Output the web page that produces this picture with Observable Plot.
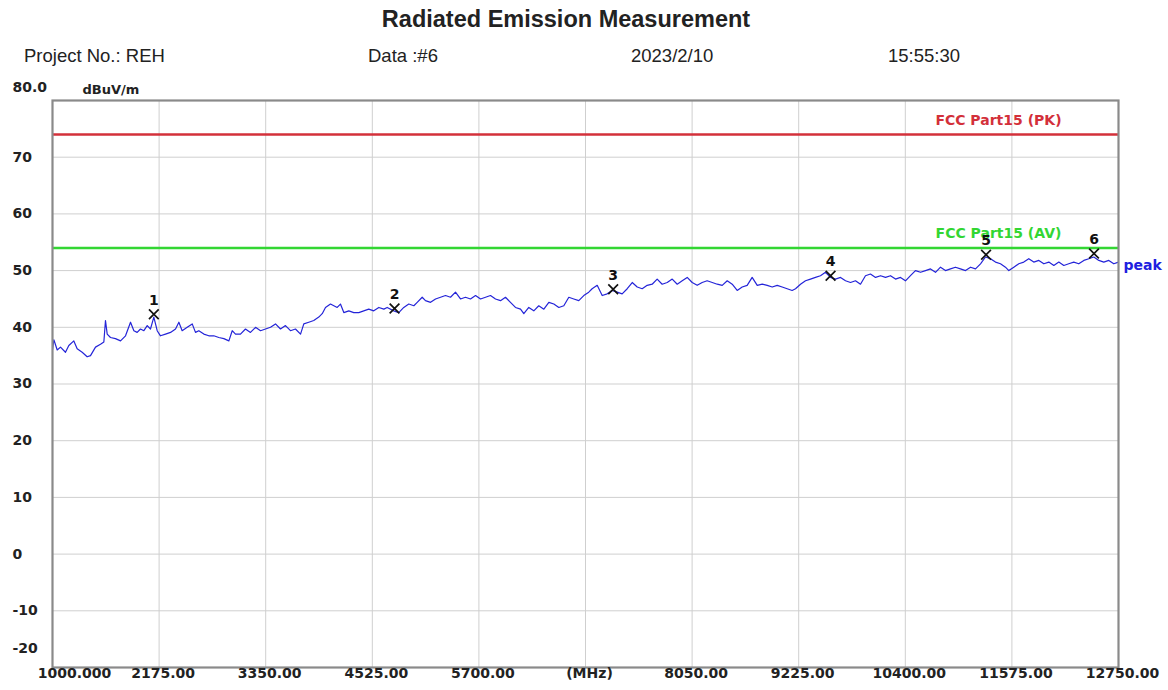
<!DOCTYPE html>
<html>
<head>
<meta charset="utf-8">
<script src="https://cdn.jsdelivr.net/npm/d3@7"></script>
<script src="https://cdn.jsdelivr.net/npm/@observablehq/plot@0.6"></script>
<style>
  body { margin: 0; background: #fff; }
  #hdr { position: relative; width: 1168px; height: 70px; font-family: "Liberation Sans", Arial, sans-serif; color: #222; }
  #hdr span { position: absolute; white-space: nowrap; line-height: 1; }
  #title { font-weight: bold; font-size: 23.5px; left: 0; width: 1132px; text-align: center; top: 8px; }
  .meta { font-size: 18.5px; top: 47px; }
</style>
</head>
<body>
<div id="hdr">
  <span id="title">Radiated Emission Measurement</span>
  <span class="meta" style="left:24px">Project No.: REH</span>
  <span class="meta" style="left:368px">Data :#6</span>
  <span class="meta" style="left:631px">2023/2/10</span>
  <span class="meta" style="left:888px">15:55:30</span>
</div>
<div id="chart"></div>
<script>
// ---- data ----
const freqMHz = [
  1000,1015,1052,1088,1143,1180,1235,1272,1327,1382,1419,1474,1529,1566,1584,1603,1639,1694,1750,1805,
  1860,1897,1933,1970,2007,2044,2080,2117,2154,2190,2246,2301,2356,2393,2429,2485,2540,2576,2613,2668,
  2723,2778,2833,2889,2944,2981,3017,3072,3127,3182,3238,3293,3348,3403,3458,3513,3568,3623,3678,3734,
  3770,3825,3880,3935,3973,4009,4064,4101,4138,4174,4211,4266,4321,4376,4431,4486,4541,4597,4652,4689,
  4762,4817,4872,4927,4983,5020,5075,5111,5167,5222,5277,5332,5387,5442,5497,5552,5607,5663,5718,5773,
  5828,5883,5938,5993,6048,6103,6159,6195,6250,6305,6360,6416,6471,6526,6581,6636,6691,6746,6801,6856,
  6911,6948,7004,7059,7114,7169,7224,7279,7335,7390,7445,7500,7555,7610,7665,7720,7776,7831,7886,7941,
  7996,8051,8106,8161,8216,8272,8327,8382,8437,8492,8547,8602,8657,8712,8768,8823,8878,8933,8988,9043,
  9098,9153,9190,9245,9300,9355,9410,9465,9520,9576,9631,9686,9741,9796,9851,9906,9961,10016,10072,10127,
  10182,10237,10292,10347,10402,10457,10512,10568,10623,10678,10733,10788,10843,10898,10953,11008,11064,11119,11174,11229,
  11284,11339,11394,11449,11504,11541,11596,11651,11706,11761,11816,11872,11927,11982,12037,12092,12147,12202,12257,12312,
  12368,12423,12478,12533,12588,12643,12698,12750
];
const levelDbuvm = [
  36.0,37.8,36.0,36.5,35.6,36.8,37.6,36.2,35.6,34.8,35.0,36.5,37.0,37.4,41.2,38.8,38.2,38.0,37.6,38.5,
  40.9,39.4,39.1,39.7,39.4,40.3,39.7,41.8,39.4,38.5,38.8,39.1,39.7,40.9,39.4,40.0,40.6,39.1,39.4,38.8,
  38.5,38.5,38.2,38.0,37.6,39.4,38.8,38.8,39.7,39.1,40.0,39.4,39.7,40.0,40.6,39.7,40.3,39.4,39.7,38.8,
  40.6,40.9,41.2,41.8,42.4,43.5,44.1,43.8,43.5,44.1,42.6,42.9,42.6,42.6,42.9,43.2,42.9,43.5,43.2,43.5,
  42.9,42.6,43.5,44.1,43.8,44.4,45.3,44.7,44.4,45.0,45.3,45.6,45.3,46.2,45.0,45.3,45.0,45.6,45.0,45.3,
  45.6,45.0,44.7,45.3,44.4,43.5,43.2,42.4,43.5,42.9,43.8,43.2,44.4,44.1,43.5,43.8,45.3,45.0,44.7,45.6,
  46.2,46.8,47.4,45.6,45.9,46.5,46.2,45.9,46.8,47.9,47.1,46.8,47.4,47.6,48.5,47.6,47.9,48.5,47.6,48.2,
  48.8,47.9,47.4,47.9,48.2,47.9,47.6,47.4,48.2,47.6,46.5,47.1,47.4,48.8,47.4,47.6,47.4,47.1,47.4,47.1,
  46.8,46.5,46.8,47.6,48.2,48.5,48.8,49.1,49.7,48.8,48.5,48.8,48.2,47.9,48.2,47.6,49.1,49.4,48.8,49.1,
  48.8,49.1,48.5,48.8,48.2,49.1,50.0,49.7,50.0,50.3,49.7,50.6,50.0,50.3,50.6,50.3,50.0,50.6,50.3,51.2,
  52.4,52.1,51.5,51.2,50.6,50.0,50.6,51.2,51.5,52.1,51.5,51.8,51.2,51.5,50.9,51.5,50.9,51.2,51.5,51.2,
  51.8,52.1,52.4,51.8,51.5,51.8,51.2,51.5
];
const markerIds = ["1","2","3","4","5","6"];
const markerFreq = [2117, 4770, 7180, 9576, 11290, 12480];
const markerLevel = [42.3, 43.3, 46.7, 49.1, 52.8, 53.0];
const limitNames = ["FCC Part15 (PK)", "FCC Part15 (AV)"];
const limitLevels = [74, 54];
const limitColors = ["#d3303a", "#33d633"];
const xTicks = [1000,2175,3350,4525,5700,6875,8050,9225,10400,11575,12750];
const xTickLabels = ["1000.000","2175.00","3350.00","4525.00","5700.00","(MHz)","8050.00","9225.00","10400.00","11575.00","12750.00"];
const yTicks = [80,70,60,50,40,30,20,10,0,-10,-20];
const yTickLabels = ["80.0","70","60","50","40","30","20","10","0","-10","-20"];
const yUnit = "dBuV/m";
const traceName = "peak";

// ---- build ----
const trace = freqMHz.map((f, i) => ({f, v: levelDbuvm[i]}));
const markers = markerIds.map((id, i) => ({id, f: markerFreq[i], v: markerLevel[i]}));
const limits = limitNames.map((name, i) => ({name, v: limitLevels[i], c: limitColors[i]}));
const last = trace[trace.length - 1];
const font = "DejaVu Sans";
const labFill = "#222";

const chart = Plot.plot({
  width: 1168,
  height: 620,
  marginTop: 30,
  marginLeft: 52,
  marginRight: 50,
  marginBottom: 23,
  style: {fontFamily: font, background: "#fff", overflow: "visible"},
  x: {type: "linear", domain: [1000, 12750], axis: null},
  y: {type: "linear", domain: [-20, 80], axis: null},
  marks: [
    Plot.gridX(xTicks, {stroke: "#cfcfcf", strokeOpacity: 1, strokeWidth: 1}),
    Plot.gridY(yTicks, {stroke: "#cfcfcf", strokeOpacity: 1, strokeWidth: 1}),
    Plot.ruleY(limits, {y: "v", stroke: "c", strokeWidth: 2.5}),
    Plot.text(limits, {y: "v", x: 11427, text: "name", fill: "c", fontWeight: "bold", fontSize: 14, dy: -14}),
    Plot.line(trace, {x: "f", y: "v", stroke: "#2424d8", strokeWidth: 1.2}),
    Plot.text([last], {x: "f", y: "v", text: () => traceName, textAnchor: "start", dx: 5, dy: 3, fill: "#2020e0", fontWeight: "bold", fontSize: 14}),
    Plot.dot(markers, {x: "f", y: "v", symbol: "times", r: 4.5, stroke: "#111", strokeWidth: 1.7}),
    Plot.text(markers, {x: "f", y: "v", text: "id", dy: -14, fill: "#111", fontWeight: "bold", fontSize: 14}),
    Plot.frame({stroke: "#8a8a8a", strokeWidth: 2.2}),
    // x tick labels
    Plot.text(xTicks.slice(1), {x: d => d, text: (d, i) => xTickLabels[i + 1], frameAnchor: "bottom", dy: 10, dx: 4, fill: labFill, fontWeight: "bold", fontSize: 14}),
    Plot.text(xTicks.slice(0, 1), {x: d => d, text: () => xTickLabels[0], frameAnchor: "bottom", dy: 10, dx: 22, fill: labFill, fontWeight: "bold", fontSize: 14}),
    // y tick labels
    Plot.text(yTicks.slice(1, -1), {y: d => d, text: (d, i) => yTickLabels[i + 1], frameAnchor: "left", textAnchor: "start", dx: -40, fill: labFill, fontWeight: "bold", fontSize: 14}),
    Plot.text(yTicks.slice(0, 1), {y: d => d, text: () => yTickLabels[0], frameAnchor: "left", textAnchor: "start", dx: -40, dy: -13, fill: labFill, fontWeight: "bold", fontSize: 14}),
    Plot.text(yTicks.slice(-1), {y: d => d, text: () => yTickLabels[yTickLabels.length - 1], frameAnchor: "left", textAnchor: "start", dx: -40, dy: -19, fill: labFill, fontWeight: "bold", fontSize: 14}),
    // unit
    Plot.text([yUnit], {text: d => d, frameAnchor: "top-left", textAnchor: "start", dx: 30, dy: -16, fill: labFill, fontWeight: "bold", fontSize: 13})
  ]
});
document.getElementById("chart").appendChild(chart);
</script>
</body>
</html>
